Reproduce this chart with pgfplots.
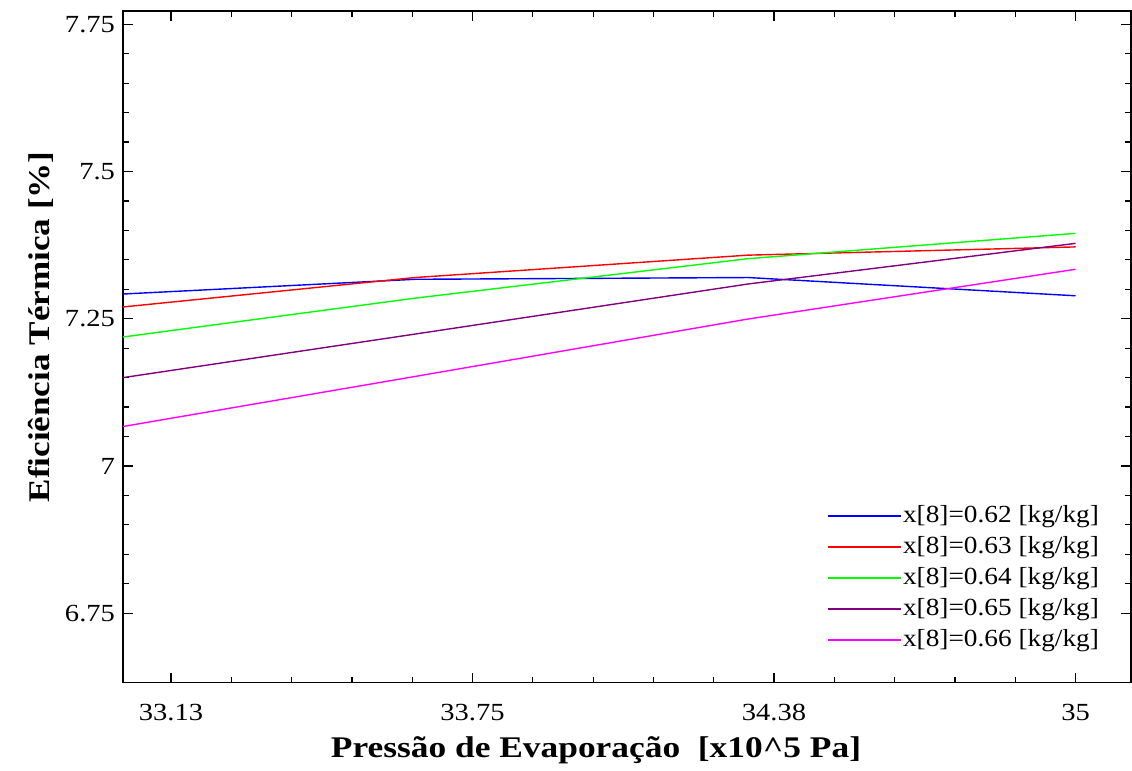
\documentclass[border=0pt]{standalone}
\usepackage{graphicx}
\usepackage{pgfplots}
\pgfplotsset{compat=1.18}
\usepackage{fontspec}
\setmainfont{Liberation Serif}
\definecolor{cblue}{RGB}{0,0,255}
\definecolor{cred}{RGB}{255,0,0}
\definecolor{cgreen}{RGB}{0,255,0}
\definecolor{cpurple}{RGB}{128,0,128}
\definecolor{cpink}{RGB}{255,0,255}
\newcommand{\tkx}[1]{\scalebox{1.16}[1]{#1}}
\newcommand{\lgx}[1]{\scalebox{1.11}[1]{#1}}
\begin{document}
\begin{tikzpicture}
\useasboundingbox (-61.5pt,-44.15pt) rectangle (504.5pt,341.35pt);
\begin{axis}[
  at={(0pt,0pt)}, anchor=south west,
  scale only axis, width=504pt, height=335.85pt,
  xmin=33.0255, xmax=35.115,
  ymin=6.632, ymax=7.7726,
  xtick={33.125,33.75,34.375,35},
  xticklabels={\tkx{33.13},\tkx{33.75},\tkx{34.38},\tkx{35}},
  ytick={6.75,7,7.25,7.5,7.75},
  yticklabels={\tkx{6.75},\tkx{7},\tkx{7.25},\tkx{7.5},\tkx{7.75}},
  minor x tick num=4, minor y tick num=4,
  major tick length=5pt, minor tick length=3pt,
  tick style={black, line width=0.6pt},
  axis line style={line width=0.7pt},
  tick label style={font=\fontsize{12.3}{14}\selectfont},
  xticklabel style={yshift=-7pt},
  yticklabel style={xshift=-0.5pt},
  /pgf/number format/assume math mode=true,
  legend cell align=left,
  legend style={draw=none, fill=none, at={(0.698,0.271)}, anchor=north west,
    inner sep=0pt, row sep=0pt,
    font=\fontsize{12.3}{14}\selectfont,
    nodes={inner xsep=0.75pt, inner ysep=0pt, text height=10.7pt, text depth=4.8pt}},
  legend image code/.code={\draw[#1, line width=0.8pt] (0pt,0.25pt) -- (36.5pt,0.25pt);},
  clip=true,
]
\addplot[cblue, line width=0.7pt] coordinates {(33.0255,7.292) (33.631,7.317) (34.321,7.320) (35,7.289)};
\addlegendentry{\lgx{x[8]=0.62 [kg/kg]}}
\addplot[cred, line width=0.7pt] coordinates {(33.0255,7.270) (33.631,7.320) (34.321,7.358) (35,7.372)};
\addlegendentry{\lgx{x[8]=0.63 [kg/kg]}}
\addplot[cgreen, line width=0.7pt] coordinates {(33.0255,7.219) (33.631,7.285) (34.321,7.352) (35,7.395)};
\addlegendentry{\lgx{x[8]=0.64 [kg/kg]}}
\addplot[cpurple, line width=0.7pt] coordinates {(33.0255,7.150) (33.631,7.224) (34.321,7.309) (35,7.378)};
\addlegendentry{\lgx{x[8]=0.65 [kg/kg]}}
\addplot[cpink, line width=0.7pt] coordinates {(33.0255,7.067) (33.631,7.152) (34.321,7.2495) (35,7.334)};
\addlegendentry{\lgx{x[8]=0.66 [kg/kg]}}
\end{axis}
\node[font=\fontsize{15}{18}\selectfont\bfseries, anchor=base] at (236.5pt,-37.5pt) {\scalebox{1.18}[1]{Pressão de Evaporação\ \ [x10\^{}5 Pa]}};
\node[font=\fontsize{15}{18}\selectfont\bfseries, rotate=90, anchor=base] at (-36.5pt,177.9pt) {\scalebox{1.17}[1]{Eficiência Térmica [\%]}};
\end{tikzpicture}
\end{document}
